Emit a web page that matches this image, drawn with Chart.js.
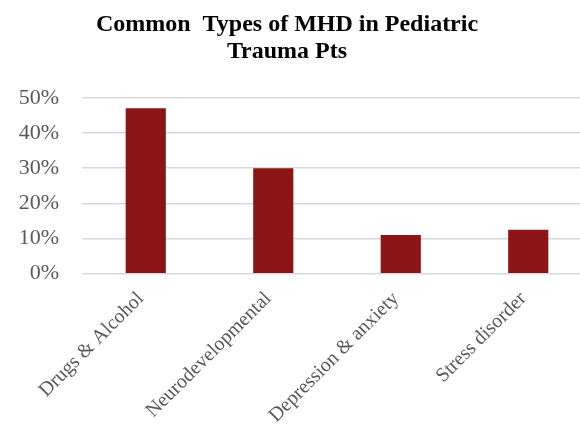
<!DOCTYPE html>
<html>
<head>
<meta charset="utf-8">
<script src="https://cdn.jsdelivr.net/npm/chart.js@4"></script>
<style>
	html, body { margin: 0; padding: 0; background: #fff; overflow: hidden; }
	#wrap { position: relative; width: 592px; height: 433px; }
</style>
</head>
<body>
<div id="wrap"><canvas id="myChart"></canvas></div>
<script>
/* Chart data */
const categories = ['Drugs & Alcohol', 'Neurodevelopmental', 'Depression & anxiety', 'Stress disorder'];
const shares = [0.47, 0.30, 0.11, 0.125];
const titleLines = ['Common  Types of MHD in Pediatric', 'Trauma Pts'];

// Colors
const barColor = 'rgb(139, 21, 23)';
const gridColor = 'rgb(217, 217, 217)';
const tickColor = 'rgb(89, 89, 89)';

const serif = "'Liberation Serif', 'Times New Roman', serif";

// Nudge the title a bit to the left, like the original layout
const titleShift = {
	id: 'titleShift',
	afterLayout(chart) {
		const t = chart.titleBlock;
		if (t) {
			t.left -= 18;
			t.right -= 18;
		}
	},
};

const chartContainer = document.getElementById('myChart').getContext('2d');
Chart.defaults.font.family = serif;

const chartConfig = {
	type: 'bar',
	data: {
		labels: categories,
		datasets: [
			{
				data: shares,
				backgroundColor: barColor,
				barPercentage: 0.63,
				categoryPercentage: 0.5,
			},
		],
	},
	options: {
		responsive: true,
		maintainAspectRatio: false,
		animation: false,
		layout: {
			padding: { left: 18, right: 0, top: 11, bottom: 0 },
		},
		scales: {
			x: {
				grid: { display: false },
				border: { display: false },
				ticks: {
					color: tickColor,
					font: { size: 20 },
					minRotation: 45,
					maxRotation: 45,
					padding: 5.5,
					labelOffset: -5,
				},
				afterFit: (scale) => {
					scale.paddingLeft = 0;
					scale.paddingRight = 0;
				},
			},
			y: {
				min: 0,
				max: 0.5,
				border: { display: false },
				grid: { color: gridColor, lineWidth: 1.5, drawTicks: false },
				ticks: {
					stepSize: 0.1,
					color: tickColor,
					font: { size: 22 },
					padding: 23,
					callback: (v) => Math.round(v * 100) + '%',
				},
				afterFit: (scale) => {
					scale.width = 64;
				},
			},
		},
		plugins: {
			legend: { display: false },
			tooltip: { enabled: false },
			title: {
				display: true,
				text: titleLines,
				color: '#000',
				font: { size: 24, weight: 'bold', lineHeight: 1.12 },
				padding: { top: 0, bottom: 33 },
			},
		},
	},
	plugins: [titleShift],
};

const myChart = new Chart(chartContainer, chartConfig);
</script>
</body>
</html>
